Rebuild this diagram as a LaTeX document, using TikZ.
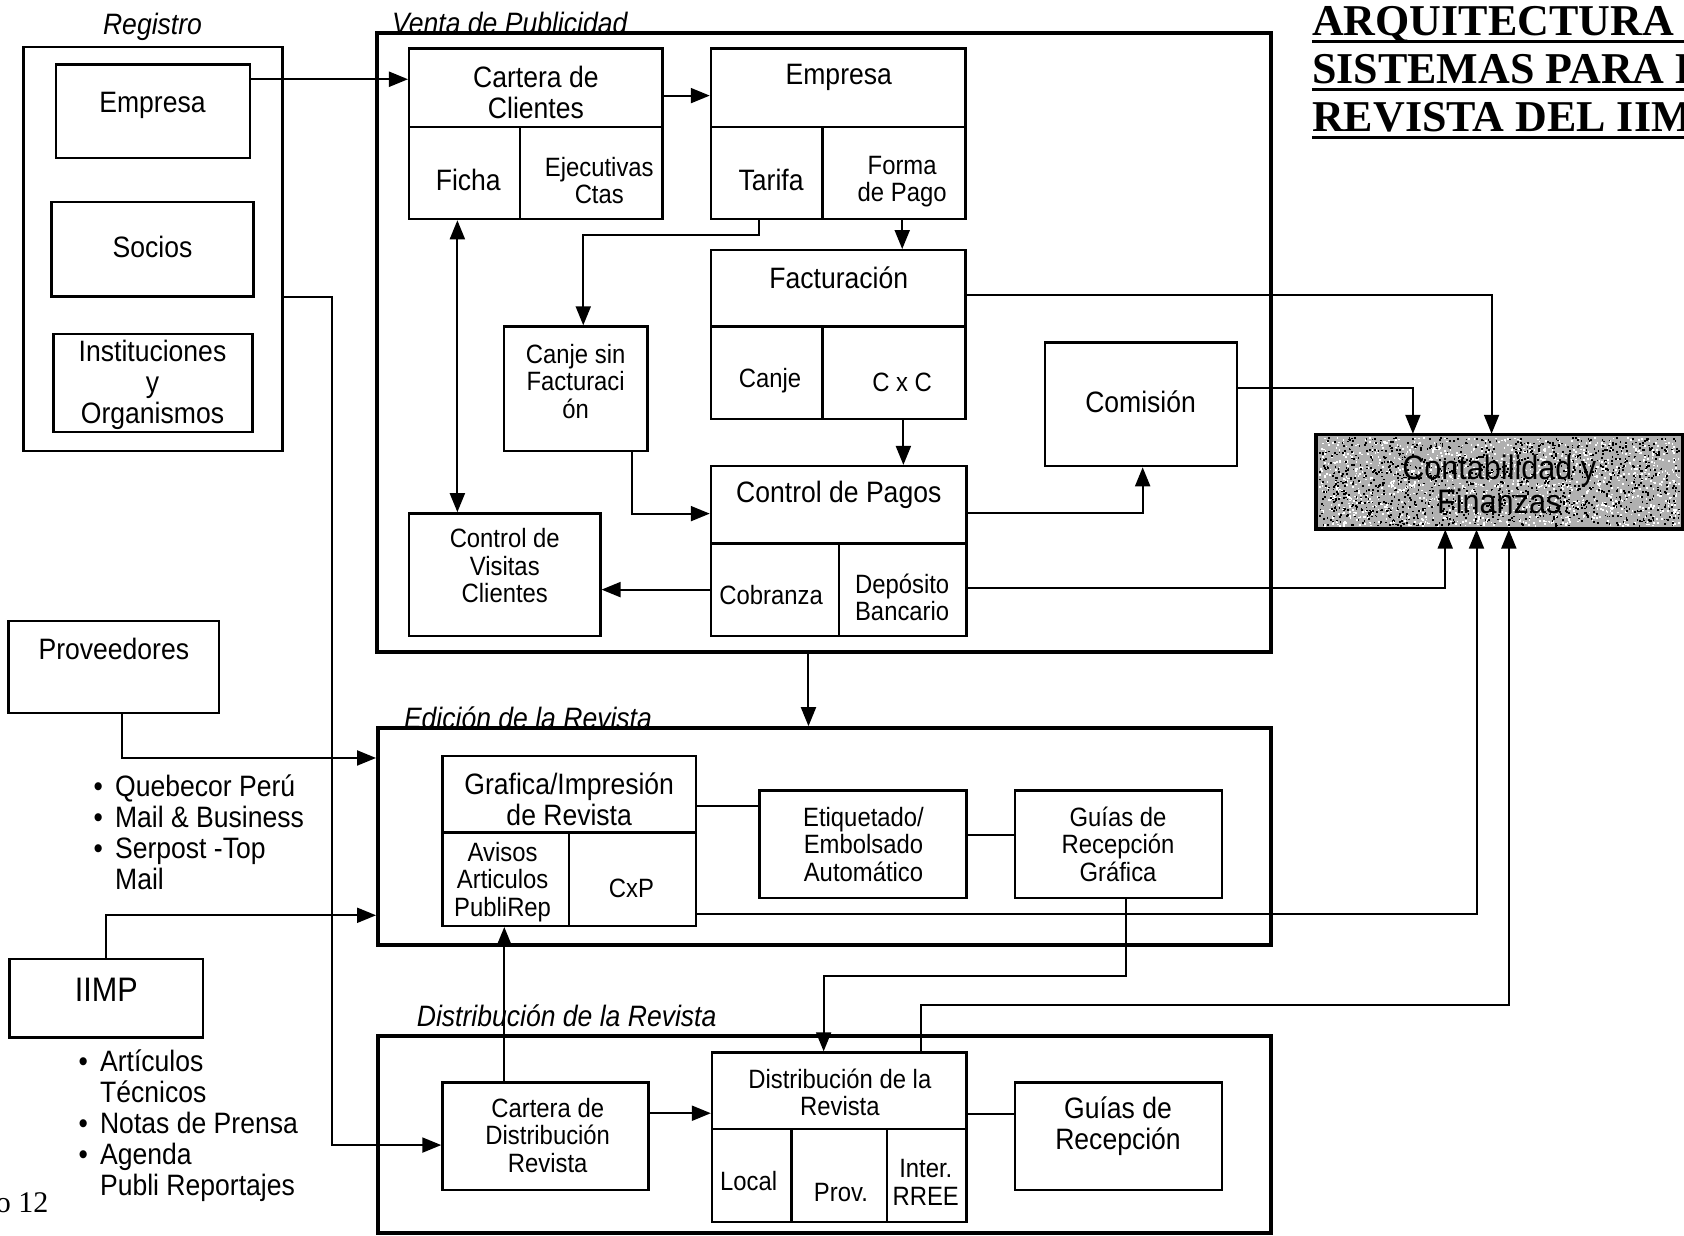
\documentclass[tikz,border=0pt]{standalone}
\usepackage{fontspec}
\setmainfont{Liberation Sans}[FakeStretch=0.9]
\newfontfamily\titlefont{Liberation Serif}
\usetikzlibrary{arrows.meta,calc,fit}

% box spanning two corners (x1,y1)-(x2,y2)
\newcommand\mkbox[6][box]{\node[#1, fit={(#3,#4) (#5,#6)}] (#2) {};}
\newcommand\itm{\makebox[21.5pt][l]{\textbullet}}

\begin{document}
\begin{tikzpicture}[x=1.074pt,y=-1.074pt,
  box/.style={draw, line width=2.4pt, inner sep=0pt, fill=white},
  frame/.style={draw, line width=4pt, inner sep=0pt, fill=white},
  big/.style={inner sep=0pt, align=center, font=\fontsize{29.5}{31}\selectfont},
  small/.style={inner sep=0pt, align=center, font=\fontsize{26.5}{27.5}\selectfont},
  grp/.style={inner sep=0pt, font=\fontsize{29.5}{31}\selectfont\itshape},
  tip/.tip={Triangle[length=19pt,width=15pt]},
  arr/.style={line width=2pt, -tip},
  dbl/.style={line width=2pt, tip-tip},
  link/.style={line width=2pt},
]
\useasboundingbox (0,0) rectangle (1568,1150);
\clip (0,0) rectangle (1568,1150);
\fill[white] (0,0) rectangle (1568,1150);

% ---------- title (runs past the right edge of the sheet) ----------
\begin{scope}[every node/.style={anchor=base west, inner sep=0pt,
    font=\titlefont\bfseries\fontsize{44}{44}\selectfont}]
  \node (title1) at (1221.6,32.6) {ARQUITECTURA DE};
  \node (title2) at (1221.6,77.3) {SISTEMAS PARA LA};
  \node (title3) at (1221.6,122) {REVISTA DEL IIMP};
\end{scope}
\foreach \t in {title1,title2,title3}
  \draw[line width=3pt] ([yshift=-6pt]\t.base west) -- ++(400,0);

\node[anchor=base west, inner sep=0pt, font=\titlefont\fontsize{30}{30}\selectfont]
  (pagenum) at (-4,1129) {o 12};

% ---------- Registro ----------
\node[grp] (regL) at (142,25) {Registro};
\mkbox{reg}{22}{44}{263}{420}
\mkbox{regEmp}{52}{60}{233}{147}
\node[big] (regEmpT) at (142,98) {Empresa};
\mkbox{socios}{48}{188}{236}{276}
\node[big] (sociosT) at (142,230) {Socios};
\mkbox{inst}{50}{311}{235}{402}
\node[big] (instT) at (142,358) {Instituciones\\y\\Organismos};

% ---------- Venta de Publicidad ----------
\node[grp, anchor=base west] (ventaL) at (365,31.5) {Venta de Publicidad};
\mkbox[frame]{venta}{351}{31}{1183}{607}

\mkbox{carteraH}{381}{45}{617}{118}
\mkbox{ficha}{381}{118}{484}{204}
\mkbox{ejec}{484}{118}{617}{204}
\node[big] (carteraT) at (499,86) {Cartera de\\Clientes};
\node[big] (fichaT) at (436,168) {Ficha};
\node[small] (ejecT) at (558,168) {Ejecutivas\\Ctas};

\mkbox{empH}{662}{45}{899}{118}
\mkbox{tarifa}{662}{118}{766}{204}
\mkbox{forma}{766}{118}{899}{204}
\node[big] (empT) at (781,72) {Empresa};
\node[big] (tarifaT) at (718,168) {Tarifa};
\node[small] (formaT) at (840,169) {Forma\\de Pago};

\mkbox{facturH}{662}{233}{899}{304}
\mkbox{canje}{662}{304}{766}{390}
\mkbox{cxc}{766}{304}{899}{390}
\node[big] (facturT) at (781,259) {Facturación};
\node[small] (canjeT) at (717,354) {Canje};
\node[small] (cxcT) at (840,356) {C x C};

\mkbox{canjeSin}{469}{304}{603}{420}
\node[small] (canjeSinT) at (536,355) {Canje sin\\Facturaci\\ón};

\mkbox{pagosH}{662}{434}{900}{506}
\mkbox{cobranza}{662}{506}{781}{592}
\mkbox{deposito}{781}{506}{900}{592}
\node[big] (pagosT) at (781,461) {Control de Pagos};
\node[small] (cobranzaT) at (718,554) {Cobranza};
\node[small] (depositoT) at (840,556) {Depósito\\Bancario};

\mkbox{comision}{973}{319}{1152}{434}
\node[big] (comisionT) at (1062,374) {Comisión};

\mkbox{visitas}{381}{478}{559}{592}
\node[small] (visitasT) at (470,527) {Control de\\Visitas\\Clientes};

% ---------- Contabilidad y Finanzas (stippled) ----------
\mkbox[box, fill=gray!62]{conta}{1226}{405}{1566}{492}
\pgfmathsetseed{42}
\foreach \k in {1,...,1300}{
  \pgfmathsetmacro{\sx}{1228+335*rnd}
  \pgfmathsetmacro{\sy}{407+82*rnd}
  \fill[white] (\sx,\sy) rectangle ++(1.6,1.6);
}
\foreach \k in {1,...,1300}{
  \pgfmathsetmacro{\sx}{1228+335*rnd}
  \pgfmathsetmacro{\sy}{407+82*rnd}
  \fill[black] (\sx,\sy) rectangle ++(1.6,1.6);
}
\draw[line width=2.4pt] (conta.north west) rectangle (conta.south east);
\node[inner sep=0pt, align=center, font=\fontsize{34}{34.5}\selectfont]
  (contaT) at (1396,451) {Contabilidad y\\Finanzas};

% ---------- Edición de la Revista ----------
\node[grp, anchor=base west] (edL) at (376,678.5) {Edición de la Revista};
\mkbox[frame]{edicion}{352}{678}{1183}{880}

\mkbox{grafH}{412}{704}{648}{775}
\mkbox{avisos}{412}{775}{530}{862}
\mkbox{cxp}{530}{775}{648}{862}
\node[big] (grafT) at (530,744) {Grafica/Impresión\\de Revista};
\node[small] (avisosT) at (468,821) {Avisos\\Articulos\\PubliRep};
\node[small] (cxpT) at (588,827) {CxP};

\mkbox{etiq}{707}{736}{900}{836}
\node[small] (etiqT) at (804,786) {Etiquetado/\\Embolsado\\Automático};
\mkbox{guiasG}{945}{736}{1138}{836}
\node[small] (guiasGT) at (1041,786) {Guías de\\Recepción\\Gráfica};

% ---------- Distribución de la Revista ----------
\node[grp, anchor=west] (distL) at (388,946) {Distribución de la Revista};
\mkbox[frame]{distrib}{352}{965}{1183}{1148}

\mkbox{carDist}{412}{1008}{604}{1108}
\node[small] (carDistT) at (510,1057) {Cartera de\\Distribución\\Revista};

\mkbox{distH}{663}{980}{900}{1051}
\mkbox{local}{663}{1051}{737}{1138}
\mkbox{prov}{737}{1051}{826}{1138}
\mkbox{inter}{826}{1051}{900}{1138}
\node[small] (distT) at (782,1017) {Distribución de la\\Revista};
\node[small] (localT) at (697,1100) {Local};
\node[small] (provT) at (783,1110) {Prov.};
\node[small] (interT) at (862,1101) {Inter.\\RREE};

\mkbox{guiasR}{945}{1008}{1138}{1108}
\node[big] (guiasRT) at (1041,1049) {Guías de\\Recepción};

% ---------- external sources ----------
\mkbox{proveedores}{8}{578}{204}{664}
\node[big] (proveedoresT) at (106,604) {Proveedores};
\node[big, align=left, anchor=north west] (provList) at (87,721)
  {\itm Quebecor Perú\\\itm Mail \& Business\\\itm Serpost -Top\\\hphantom{\itm}Mail};

\mkbox{iimp}{9}{893}{189}{966}
\node[inner sep=0pt, font=\fontsize{34}{34}\selectfont] (iimpT) at (99,922) {IIMP};
\node[big, align=left, anchor=north west] (iimpList) at (73,977)
  {\itm Artículos\\\hphantom{\itm}Técnicos\\\itm Notas de Prensa\\\itm Agenda\\\hphantom{\itm}Publi Reportajes};

% ---------- connectors ----------
\draw[arr] ($(regEmp.north east)!.167!(regEmp.south east)$) coordinate (p1) -- (p1 -| carteraH.west);
\draw[arr] ($(carteraH.north east)!.6!(carteraH.south east)$) coordinate (p2) -- (p2 -| empH.west);
\draw[arr] ($(forma.south west)!.556!(forma.south east)$) coordinate (p3) -- (p3 |- facturH.north);
\draw[arr] ($(tarifa.south west)!.433!(tarifa.south east)$) -- ++(0,14)
  -| ($(canjeSin.north west)!.552!(canjeSin.north east)$);
\draw[arr] ($(cxc.south west)!.564!(cxc.south east)$) coordinate (p5) -- (p5 |- pagosH.north);
\draw[arr] ($(canjeSin.south west)!.888!(canjeSin.south east)$)
  |- ($(pagosH.north west)!.611!(pagosH.south west)$);
\draw[arr] ($(pagosH.north east)!.597!(pagosH.south east)$)
  -| ($(comision.south west)!.508!(comision.south east)$);
\draw[arr] ($(cobranza.north west)!.5!(cobranza.south west)$) coordinate (p8) -- (p8 -| visitas.east);
\draw[dbl] ($(ficha.south west)!.437!(ficha.south east)$) coordinate (p9) -- (p9 |- visitas.north);
\draw[arr] ($(facturH.north east)!.59!(facturH.south east)$)
  -| ($(conta.north west)!.479!(conta.north east)$);
\draw[arr] ($(comision.north east)!.374!(comision.south east)$)
  -| ($(conta.north west)!.265!(conta.north east)$);
\draw[arr] ($(deposito.north east)!.488!(deposito.south east)$)
  -| ($(conta.south west)!.353!(conta.south east)$);
\draw[arr] ($(venta.south west)!.483!(venta.south east)$) coordinate (p13) -- (p13 |- edicion.north);
\draw[link] ($(grafH.north east)!.648!(grafH.south east)$) coordinate (p14) -- (p14 -| etiq.west);
\draw[link] ($(etiq.north east)!.42!(etiq.south east)$) coordinate (p15) -- (p15 -| guiasG.west);
\draw[arr] ($(cxp.north east)!.862!(cxp.south east)$)
  -| ($(conta.south west)!.438!(conta.south east)$);
\draw[arr] ($(proveedores.south west)!.536!(proveedores.south east)$)
  |- ($(edicion.north west)!.144!(edicion.south west)$);
\draw[arr] ($(iimp.north west)!.5!(iimp.north east)$)
  |- ($(edicion.north west)!.856!(edicion.south west)$);
\draw[arr] ($(reg.north east)!.617!(reg.south east)$) -- ++(45,0)
  |- ($(carDist.north west)!.58!(carDist.south west)$);
\draw[arr] ($(carDist.north west)!.302!(carDist.north east)$) coordinate (p20) -- (p20 |- avisos.south);
\draw[arr] ($(carDist.north east)!.29!(carDist.south east)$) coordinate (p21) -- (p21 -| distH.west);
\draw[arr] ($(guiasG.south west)!.534!(guiasG.south east)$) -- ++(0,72)
  -| ($(distH.north west)!.439!(distH.north east)$);
\draw[arr] ($(distH.north west)!.819!(distH.north east)$) -- ++(0,-43)
  -| ($(conta.south west)!.526!(conta.south east)$);
\draw[link] ($(distH.north east)!.8!(distH.south east)$) coordinate (p24) -- (p24 -| guiasR.west);
\end{tikzpicture}
\end{document}
